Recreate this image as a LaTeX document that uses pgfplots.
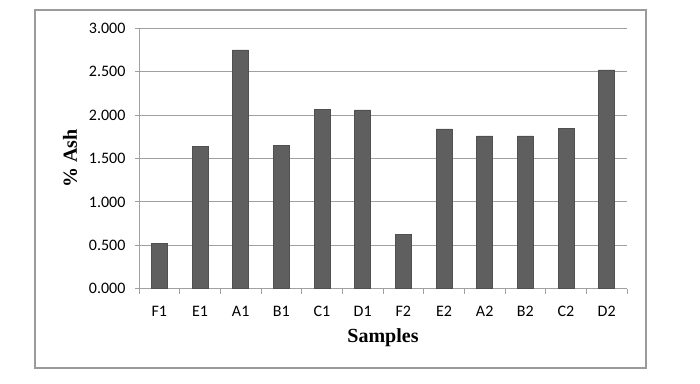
\documentclass[border=0pt]{standalone}
\usepackage{pgfplots}
\pgfplotsset{compat=1.18}
\usepackage{fontspec}
\setmainfont{Liberation Serif}
\newfontfamily\calib{Carlito}
\definecolor{barfill}{RGB}{95,95,95}
\definecolor{bardraw}{RGB}{80,80,80}
\definecolor{gridc}{RGB}{160,160,160}
\definecolor{framec}{RGB}{155,155,155}
\begin{document}
\begin{tikzpicture}[x=1pt,y=1pt]
\useasboundingbox (0,0) rectangle (700,383);
\draw[framec, line width=1.3pt] (35,15) rectangle (646,373);
\begin{axis}[
  at={(139pt,94.3pt)}, anchor=south west,
  scale only axis, width=488pt, height=260.4pt,
  xmin=-0.5, xmax=11.5, ymin=0, ymax=3,
  axis x line*=bottom, axis y line*=left,
  axis line style={gridc, line width=1pt},
  every tick/.style={gridc, line width=1pt},
  tick align=outside,
  xtick={0,...,11},
  xticklabels={F1,E1,A1,B1,C1,D1,F2,E2,A2,B2,C2,D2},
  major x tick style={draw=none},
  minor xtick={-0.5,0.5,...,11.5},
  minor tick length=5pt,
  major tick length=4pt,
  ytick={0,0.5,...,3},
  ymajorgrids, grid style={gridc, line width=1pt},
  tick label style={font=\calib\fontsize{16}{16}\selectfont, text=black},
  /pgf/number format/assume math mode=true,
  /pgf/number format/fixed,
  /pgf/number format/fixed zerofill,
  /pgf/number format/precision=3,
  yticklabel style={xshift=-6pt},
  xticklabel style={yshift=-10pt},
  xlabel={Samples}, ylabel={\% Ash},
  every axis x label/.style={at={(axis description cs:0.5,-0.19)}, anchor=center, font=\fontsize{20}{20}\selectfont\bfseries},
  every axis y label/.style={at={(axis description cs:-0.1414,0.5)}, rotate=90, anchor=center, font=\fontsize{20}{20}\selectfont\bfseries},
  clip=false,
]
\addplot[ybar, bar width=16pt, fill=barfill, draw=bardraw, line width=0.6pt] coordinates {
  (0,0.52) (1,1.64) (2,2.75) (3,1.65) (4,2.07) (5,2.06)
  (6,0.63) (7,1.84) (8,1.76) (9,1.76) (10,1.85) (11,2.52)
};
\end{axis}
\end{tikzpicture}
\end{document}
